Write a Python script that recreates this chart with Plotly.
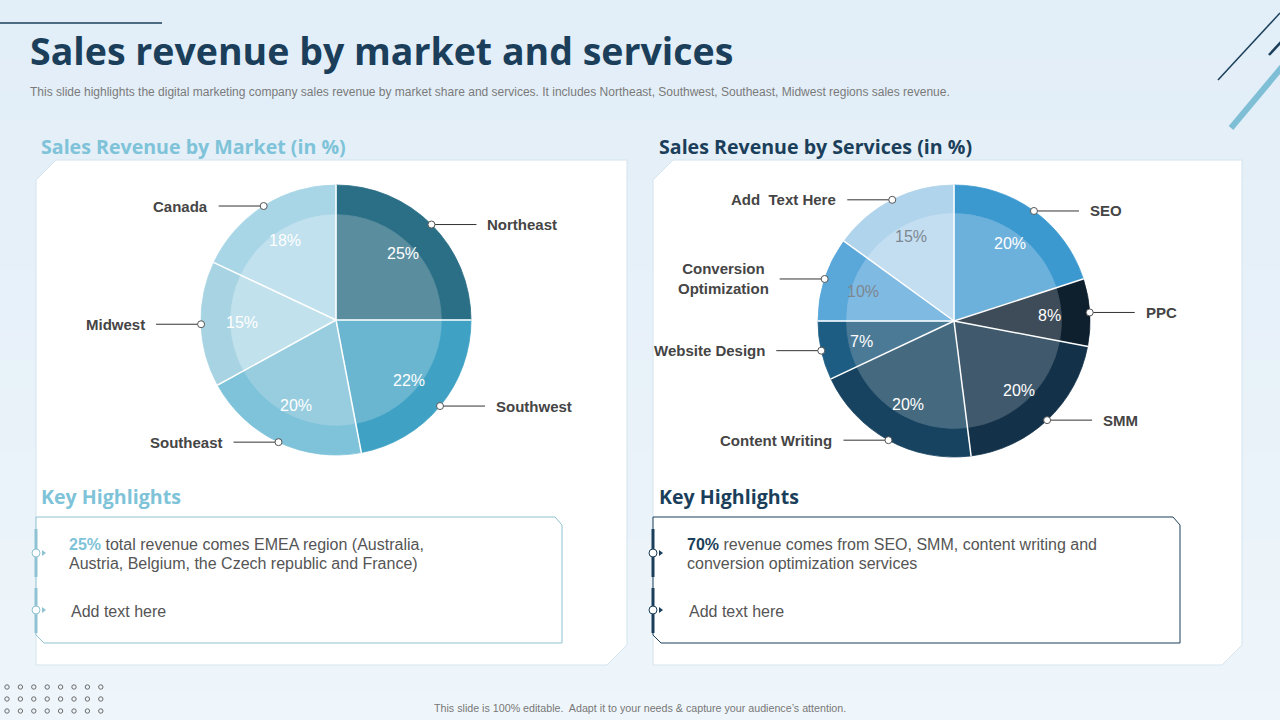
import math
import plotly.graph_objects as go

W, H = 1280, 720

# ---------------- data ----------------
market_labels = ["Northeast", "Southwest", "Southeast", "Midwest", "Canada"]
market_values = [25, 22, 20, 15, 18]
market_outer = ["#2b6f87", "#3fa2c5", "#7ec3da", "#a7d3e3", "#a9d6e7"]
market_inner = ["#5a8e9f", "#6ab6d0", "#98cde0", "#c1e1ec", "#c1e1ee"]
market_pct_colors = ["#ffffff", "#ffffff", "#ffffff", "#ffffff", "#ffffff"]

service_labels = ["SEO", "PPC", "SMM", "Content Writing", "Website Design",
                  "Conversion<br>Optimization", "Add\u00a0 Text Here"]
service_values = [20, 8, 20, 20, 7, 10, 15]
service_outer = ["#3b99cf", "#0e1f2e", "#13324a", "#174360", "#1d5d83", "#5aa8da", "#b0d4ec"]
service_inner = ["#6cb1dc", "#3e4c59", "#40596c", "#456a80", "#4b7a97", "#7fbae3", "#c4def1"]
service_pct_colors = ["#ffffff", "#ffffff", "#ffffff", "#ffffff", "#ffffff", "#7d8790", "#7d8790"]

title_text = "Sales revenue by market and services"
subtitle_text = ("This slide highlights the digital marketing company sales revenue by market share and services. "
                 "It includes Northeast, Southwest, Southeast, Midwest regions sales revenue.")
footer_text = "This slide is 100% editable.  Adapt it to your needs & capture your audience\u2019s attention."

DARK = "#1b3f5a"
LIGHT = "#7ec3d8"
GREY = "#555555"

fig = go.Figure()
shapes = []
annotations = []

# background gradient bands
nb = 24
for i in range(nb):
    t = i / (nb - 1)
    r = int(0xe2 + (0xef - 0xe2) * t)
    g = int(0xee + (0xf6 - 0xee) * t)
    b = int(0xf8 + (0xfb - 0xf8) * t)
    shapes.append(dict(type="rect", xref="x", yref="y", x0=0, x1=W, y0=H * i / nb, y1=H * (i + 1) / nb + 1,
                       fillcolor=f"rgb({r},{g},{b})", line=dict(width=0), layer="below"))

# panels
def panel(x0, y0, x1, y1, cut=20):
    return dict(type="path", xref="x", yref="y",
                path=f"M {x0},{y0+cut} L {x0+cut},{y0} L {x1},{y0} L {x1},{y1-cut} L {x1-cut},{y1} L {x0},{y1} Z",
                fillcolor="#ffffff", line=dict(color="#d3e4ee", width=1), layer="below")

shapes.append(panel(36, 160, 627, 665))
shapes.append(panel(653, 160, 1242, 665))

# decorative lines
shapes.append(dict(type="line", xref="x", yref="y", x0=0, y0=23, x1=162, y1=23, line=dict(color=DARK, width=1.5), layer="above"))
shapes.append(dict(type="line", xref="x", yref="y", x0=1218, y0=80, x1=1280, y1=13, line=dict(color=DARK, width=1.5), layer="above"))
shapes.append(dict(type="line", xref="x", yref="y", x0=1269, y0=55, x1=1282, y1=41, line=dict(color=DARK, width=2.5), layer="above"))
shapes.append(dict(type="line", xref="x", yref="y", x0=1231, y0=128, x1=1282, y1=67, line=dict(color="#7fbfd6", width=6), layer="above"))

# bottom dot grid
for row in range(3):
    for col in range(8):
        cx = 7 + col * 13.4
        cy = 687 + row * 12
        shapes.append(dict(type="circle", xref="x", yref="y", x0=cx - 2.2, x1=cx + 2.2, y0=cy - 2.2, y1=cy + 2.2,
                           line=dict(color="#6b6b6b", width=1), fillcolor="rgba(0,0,0,0)", layer="above"))


def add_pie(cx, cy, R, ratio, labels, values, outer, inner, pct_colors):
    dom_x = [(cx - R) / W, (cx + R) / W]
    dom_y = [1 - (cy + R) / H, 1 - (cy - R) / H]
    r = R * ratio
    dom_xi = [(cx - r) / W, (cx + r) / W]
    dom_yi = [1 - (cy + r) / H, 1 - (cy - r) / H]
    common = dict(labels=labels, values=values, sort=False, direction="clockwise", rotation=0,
                  textinfo="none", hoverinfo="skip", showlegend=False)
    fig.add_trace(go.Pie(domain=dict(x=dom_x, y=dom_y), marker=dict(colors=outer, line=dict(color=outer, width=0.8)), **common))
    fig.add_trace(go.Pie(domain=dict(x=dom_xi, y=dom_yi), marker=dict(colors=inner, line=dict(color=inner, width=0.8)), **common))
    total = sum(values)
    cum = 0
    for lab, v, pc in zip(labels, values, pct_colors):
        a0 = cum / total * 2 * math.pi
        # white separator at the start of each slice
        shapes.append(dict(type="line", xref="x", yref="y", x0=cx, y0=cy,
                           x1=cx + (R + 0.5) * math.sin(a0), y1=cy - (R + 0.5) * math.cos(a0),
                           line=dict(color="#ffffff", width=1.5), layer="above"))
        mid = (cum + v / 2) / total * 2 * math.pi
        cum += v
        dx, dy = math.sin(mid), -math.cos(mid)
        # percent label
        annotations.append(dict(x=cx + 0.7 * R * dx, y=cy + 0.7 * R * dy, xref="x", yref="y", text=f"{v}%",
                                showarrow=False, font=dict(family="Liberation Sans, Arial", size=16, color=pc),
                                xanchor="center", yanchor="middle"))
        px, py = cx + R * dx, cy + R * dy
        sign = 1 if dx >= 0 else -1
        x2 = px + sign * 45
        shapes.append(dict(type="line", xref="x", yref="y", x0=px, y0=py, x1=x2, y1=py,
                           line=dict(color="#333333", width=1), layer="above"))
        shapes.append(dict(type="circle", xref="x", yref="y", x0=px - 3.5, x1=px + 3.5, y0=py - 3.5, y1=py + 3.5,
                           fillcolor="#ffffff", line=dict(color="#555555", width=1), layer="above"))
        annotations.append(dict(x=x2 + sign * 9, y=py, xref="x", yref="y", text=f"<b>{lab}</b>", showarrow=False,
                                font=dict(family="Liberation Sans, Arial", size=15, color="#454545"),
                                xanchor="left" if sign > 0 else "right", yanchor="middle", align="center"))


add_pie(336, 320, 135, 0.78, market_labels, market_values, market_outer, market_inner, market_pct_colors)
add_pie(954, 321, 136, 0.79, service_labels, service_values, service_outer, service_inner, service_pct_colors)

# title & subtitle
annotations.append(dict(x=28, y=50, xref="x", yref="y", text=f"<b>{title_text}</b>", showarrow=False,
                        font=dict(family="Open Sans", size=37.5, color=DARK), xanchor="left", yanchor="middle"))
annotations.append(dict(x=28, y=92, xref="x", yref="y", text=subtitle_text, showarrow=False,
                        font=dict(family="Liberation Sans, Arial", size=12, color="#7a7a7a"), xanchor="left", yanchor="middle"))

# section headings
for x, txt, col in [(39, "Sales Revenue by Market (in %)", LIGHT), (657, "Sales Revenue by Services (in %)", DARK),
                    (39, "Key Highlights", LIGHT), (657, "Key Highlights", DARK)]:
    y = 146 if "Sales" in txt else 496
    annotations.append(dict(x=x, y=y, xref="x", yref="y", text=f"<b>{txt}</b>", showarrow=False,
                            font=dict(family="Open Sans", size=19.6, color=col), xanchor="left", yanchor="middle"))


def highlight_box(x0, x1, col):
    y0, y1 = 517, 643
    shapes.append(dict(type="path", xref="x", yref="y",
                       path=f"M {x0},{y0} L {x1-7},{y0} L {x1},{y0+8} L {x1},{y1} L {x0+8},{y1} L {x0},{y1-8} Z",
                       fillcolor="#ffffff", line=dict(color=col, width=1), layer="below"))
    for (a, b) in [(529, 577), (588, 633)]:
        shapes.append(dict(type="line", xref="x", yref="y", x0=x0, x1=x0, y0=a, y1=b, line=dict(color=col, width=3), layer="above"))
    for cyy in (553, 610):
        shapes.append(dict(type="circle", xref="x", yref="y", x0=x0 - 4, x1=x0 + 4, y0=cyy - 4, y1=cyy + 4,
                           fillcolor="#ffffff", line=dict(color=col, width=1), layer="above"))
        shapes.append(dict(type="path", xref="x", yref="y",
                           path=f"M {x0+6},{cyy-3} L {x0+10},{cyy} L {x0+6},{cyy+3} Z",
                           fillcolor=col, line=dict(width=0), layer="above"))


highlight_box(36, 562, "#8fc2d2")
highlight_box(653, 1180, DARK)

body_font = dict(family="Liberation Sans, Arial", size=16, color=GREY)
left_lines = [f"<b><span style='color:{LIGHT}'>25%</span></b> total revenue comes EMEA region (Australia,",
              "Austria, Belgium, the Czech republic and France)"]
right_lines = [f"<b><span style='color:{DARK}'>70%</span></b> revenue comes from SEO, SMM, content writing and",
               "conversion optimization services"]
for x, lines in [(67, left_lines), (685, right_lines)]:
    for i, ln in enumerate(lines):
        annotations.append(dict(x=x, y=544 + 19 * i, xref="x", yref="y", text=ln, showarrow=False,
                                font=body_font, xanchor="left", yanchor="middle"))
for x in (69, 687):
    annotations.append(dict(x=x, y=611, xref="x", yref="y", text="Add text here", showarrow=False,
                            font=body_font, xanchor="left", yanchor="middle"))

annotations.append(dict(x=640, y=708, xref="x", yref="y", text=footer_text, showarrow=False,
                        font=dict(family="Liberation Sans, Arial", size=10.7, color="#777777"), xanchor="center", yanchor="middle"))

fig.update_layout(
    width=W, height=H, margin=dict(l=0, r=0, t=0, b=0),
    paper_bgcolor="#e6f1f8", plot_bgcolor="rgba(0,0,0,0)",
    xaxis=dict(range=[0, W], visible=False, fixedrange=True),
    yaxis=dict(range=[H, 0], visible=False, fixedrange=True),
    shapes=shapes, annotations=annotations, showlegend=False,
)

fig.write_html("out.html", config=dict(displayModeBar=False),
               post_script="document.body.style.margin='0';document.body.style.overflow='hidden';")
